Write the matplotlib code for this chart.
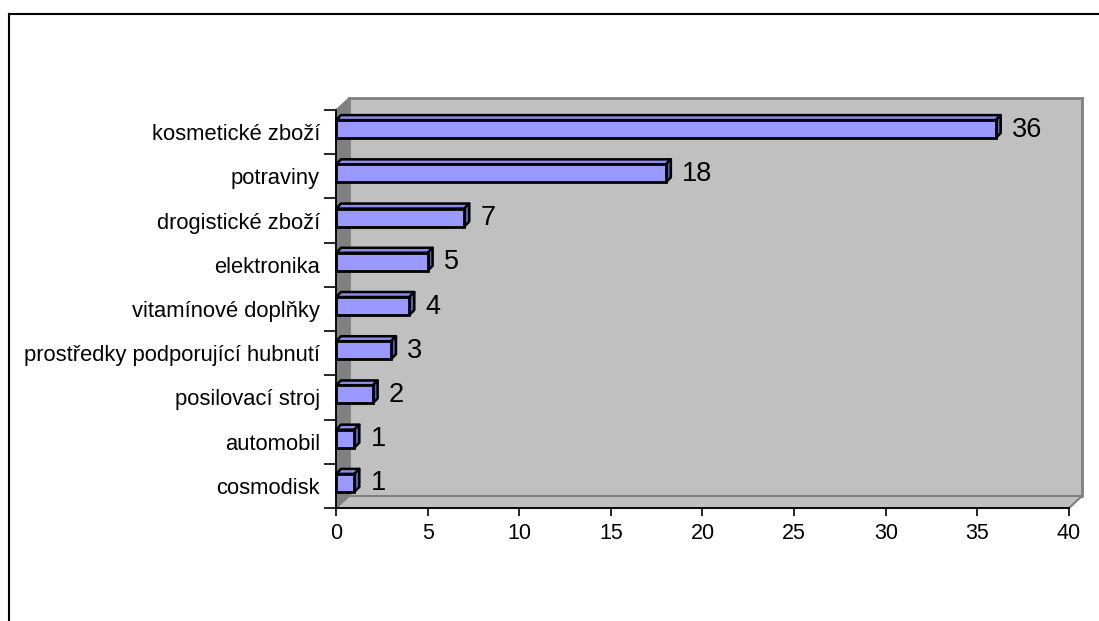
import matplotlib
matplotlib.use("Agg")
import matplotlib.pyplot as plt
from matplotlib.patches import Polygon
from matplotlib.lines import Line2D
import numpy as np

# categories bottom -> top, counts
categories = ["cosmodisk", "automobil", "posilovací stroj",
              "prostředky podporující hubnutí", "vitamínové doplňky",
              "elektronika", "drogistické zboží", "potraviny",
              "kosmetické zboží"]
counts = [1, 1, 2, 3, 4, 5, 7, 18, 36]
x_ticks = [0, 5, 10, 15, 20, 25, 30, 35, 40]

plt.rcParams['font.family'] = ['Liberation Sans', 'DejaVu Sans']

W, H = 1099, 621
fig = plt.figure(figsize=(W / 100, H / 100), dpi=100)
fig.patch.set_facecolor('white')

# plot area in pixels (front plane)
x0, x1 = 336, 1069
ytop, ybot = 110, 508
ax = fig.add_axes([x0 / W, (H - ybot) / H, (x1 - x0) / W, (ybot - ytop) / H])
ax.set_xlim(0, 40)
ax.set_ylim(-0.5, 8.5)
ax.patch.set_visible(False)

px_x = (x1 - x0) / 40.0          # pixels per unit along x
px_y = (ybot - ytop) / 9.0       # pixels per category

# wall depth (pixels -> data units)
wdx, wdy = 13 / px_x, 12 / px_y
xmin, xmax, ymin, ymax = 0, 40, -0.5, 8.5

back = Polygon([(xmin + wdx, ymin + wdy), (xmax + wdx, ymin + wdy),
                (xmax + wdx, ymax + wdy), (xmin + wdx, ymax + wdy)],
               closed=True, facecolor='#C0C0C0', edgecolor='#808080',
               lw=2, zorder=0.1, clip_on=False)
ax.add_patch(back)
left = Polygon([(xmin, ymin), (xmin + wdx, ymin + wdy),
                (xmin + wdx, ymax + wdy), (xmin, ymax)],
               closed=True, facecolor='#808080', edgecolor='#808080',
               lw=1, zorder=0.2, clip_on=False)
ax.add_patch(left)
floor = Polygon([(xmin, ymin), (xmax, ymin), (xmax + wdx, ymin + wdy),
                 (xmin + wdx, ymin + wdy)],
                closed=True, facecolor='#C0C0C0', edgecolor='#808080',
                lw=1.5, zorder=0.3, clip_on=False)
ax.add_patch(floor)

# bars: front face + top + side for the 3D look
bh = 18 / px_y
shift = 3 / px_y
bdx, bdy = 5 / px_x, 5 / px_y
y = np.arange(len(categories))
ax.barh(y + shift, counts, height=bh, left=0, color='#9999FF',
        edgecolor='black', lw=2, zorder=3, clip_on=False)
for yi, v in zip(y, counts):
    yb = yi + shift - bh / 2
    yt = yi + shift + bh / 2
    top = Polygon([(0, yt), (v, yt), (v + bdx, yt + bdy), (bdx, yt + bdy)],
                  closed=True, facecolor='#8C8CEB', edgecolor='black',
                  lw=1.8, zorder=2.9, clip_on=False, joinstyle='round')
    side = Polygon([(v, yb), (v + bdx, yb + bdy), (v + bdx, yt + bdy), (v, yt)],
                   closed=True, facecolor='#5E5EA8', edgecolor='black',
                   lw=1.8, zorder=2.9, clip_on=False, joinstyle='round')
    ax.add_patch(top)
    ax.add_patch(side)
    ax.annotate(str(v), xy=(v + bdx, yi + shift + bdy / 2),
                xytext=(8, 0), textcoords='offset points',
                ha='left', va='center_baseline', fontsize=19.5, color='black')

# axes styling
for s in ['top', 'right']:
    ax.spines[s].set_visible(False)
ax.spines['left'].set_linewidth(1.3)
ax.spines['bottom'].set_linewidth(1.3)
ax.spines['left'].set_zorder(4)
ax.spines['bottom'].set_zorder(4)

ax.set_xticks(x_ticks)
ax.set_xticklabels([str(t) for t in x_ticks])
ax.tick_params(axis='x', direction='out', length=6, width=1.2,
               labelsize=15.5, pad=5)

ax.set_yticks(np.arange(-0.5, 9.0, 1.0))
ax.set_yticklabels([])
ax.set_yticks(y, minor=True)
ax.set_yticklabels(categories, minor=True)
ax.tick_params(axis='y', which='major', direction='out', length=9, width=1.2)
ax.tick_params(axis='y', which='minor', length=0, labelsize=15.8, pad=11.5)

# outer chart border
fig.add_artist(Line2D([8.5 / W, 8.5 / W], [0, 1 - 13.5 / H],
                      transform=fig.transFigure, color='black', lw=1.5))
fig.add_artist(Line2D([8.5 / W, 1], [1 - 13.5 / H, 1 - 13.5 / H],
                      transform=fig.transFigure, color='black', lw=1.5))

fig.savefig('out.png', dpi=100)
